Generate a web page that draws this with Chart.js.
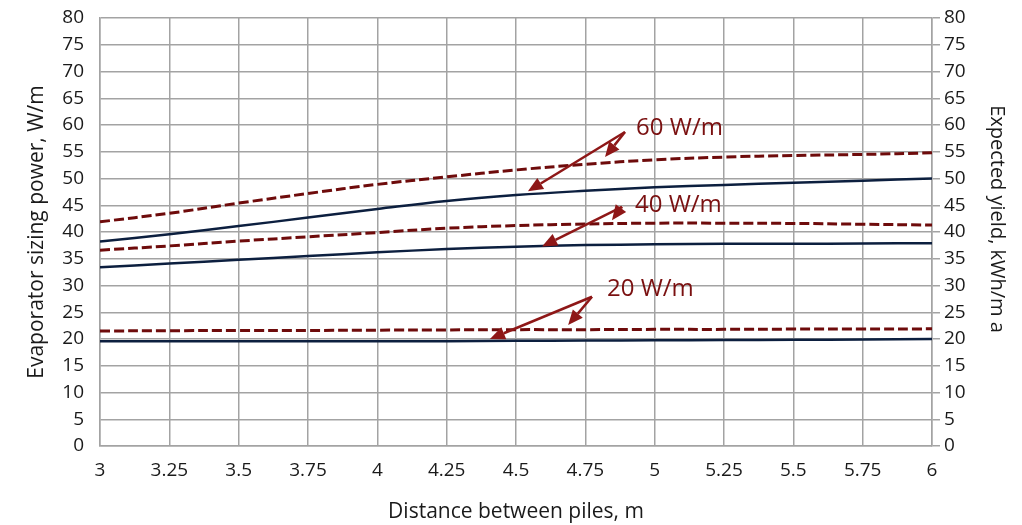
<!DOCTYPE html>
<html><head><meta charset="utf-8">
<script src="https://cdn.jsdelivr.net/npm/chart.js@4"></script>
<style>html,body{margin:0;padding:0;background:#fff}#wrap{width:1022px;height:525px;position:relative}</style>
</head><body><div id="wrap"><canvas id="c"></canvas></div>
<script>
const distances = [3, 3.25, 3.5, 3.75, 4, 4.25, 4.5, 4.75, 5, 5.25, 5.5, 5.75, 6];
const xTickLabels = ['3','3.25','3.5','3.75','4','4.25','4.5','4.75','5','5.25','5.5','5.75','6'];
// Expected yield, kWh/m a (dashed, right axis)
const yield60 = [41.9, 43.5, 45.4, 47.2, 48.9, 50.3, 51.6, 52.65, 53.5, 54.0, 54.3, 54.5, 54.8];
const yield40 = [36.6, 37.4, 38.3, 39.1, 39.9, 40.7, 41.2, 41.5, 41.65, 41.65, 41.6, 41.45, 41.3];
const yield20 = [21.5, 21.55, 21.6, 21.6, 21.65, 21.7, 21.75, 21.75, 21.8, 21.8, 21.85, 21.85, 21.9];
// Evaporator sizing power, W/m (solid, left axis)
const power60 = [38.2, 39.6, 41.1, 42.7, 44.3, 45.8, 46.9, 47.7, 48.35, 48.8, 49.2, 49.6, 50.0];
const power40 = [33.4, 34.1, 34.8, 35.5, 36.2, 36.8, 37.25, 37.55, 37.7, 37.8, 37.8, 37.85, 37.9];
const power20 = [19.6, 19.6, 19.6, 19.6, 19.6, 19.6, 19.65, 19.7, 19.75, 19.8, 19.85, 19.9, 20.0];
const labelTexts = ['60 W/m', '40 W/m', '20 W/m'];

const FONT = "'Open Sans', sans-serif";
const RED = '#6e0b0b';
const NAVY = '#0c1f3f';
const TXT = '#1a1a1a';
const GRID = '#a3a3a3';

function pts(ys){ return distances.map((x,i)=>({x, y: ys[i]})); }
function dashed(ys){ return {data: pts(ys), yAxisID:'y2', borderColor: RED, borderWidth: 3, borderDash:[10,4], pointRadius:0, tension:0.4, fill:false}; }
function solid(ys){ return {data: pts(ys), yAxisID:'y', borderColor: NAVY, borderWidth: 2.5, pointRadius:0, tension:0.4, fill:false}; }
function noPad(s){ s.paddingTop = 0; s.paddingBottom = 0; s.paddingLeft = 0; s.paddingRight = 0; }

const arrowPlugin = {
  id: 'arrows',
  afterDatasetsDraw(chart, args, opts) {
    const {ctx, scales:{x, y}} = chart;
    ctx.save();
    opts.items.forEach((it, k) => {
      const sx = x.getPixelForValue(it.from[0]), sy = y.getPixelForValue(it.from[1]);
      it.tips.forEach(t => {
        const tx = x.getPixelForValue(t[0]), ty = y.getPixelForValue(t[1]);
        const ang = Math.atan2(ty - sy, tx - sx);
        const L = 15, W = 6.5;
        const bx = tx - L*Math.cos(ang), by = ty - L*Math.sin(ang);
        ctx.strokeStyle = '#8e1717'; ctx.fillStyle = '#8e1717'; ctx.lineWidth = 2.5;
        ctx.beginPath(); ctx.moveTo(sx, sy); ctx.lineTo(bx, by); ctx.stroke();
        ctx.beginPath();
        ctx.moveTo(tx, ty);
        ctx.lineTo(bx + W*Math.sin(ang), by - W*Math.cos(ang));
        ctx.lineTo(bx - W*Math.sin(ang), by + W*Math.cos(ang));
        ctx.closePath(); ctx.fill();
      });
      ctx.fillStyle = '#7a1010';
      ctx.font = "24px " + FONT;
      ctx.textAlign = 'left'; ctx.textBaseline = 'middle';
      ctx.fillText(labelTexts[k], x.getPixelForValue(it.label[0]), y.getPixelForValue(it.label[1]));
    });
    ctx.restore();
  }
};

new Chart(document.getElementById('c'), {
  type: 'line',
  data: { datasets: [dashed(yield60), solid(power60), dashed(yield40), solid(power40), dashed(yield20), solid(power20)] },
  options: {
    responsive: true, maintainAspectRatio: false, animation: false,
    layout: { padding: { top: 18, left: 0, right: 0, bottom: 0 } },
    plugins: {
      legend: { display: false }, tooltip: { enabled: false },
      arrows: { items: [
        { label: [4.933, 59.4], from: [4.893, 58.7], tips: [[4.543, 47.6], [4.821, 54.0]] },
        { label: [4.929, 45.0], from: [4.882, 44.7], tips: [[4.594, 37.3], [4.846, 42.2]] },
        { label: [4.828, 29.3], from: [4.774, 27.9], tips: [[4.406, 20.0], [4.688, 22.6]] }
      ] }
    },
    scales: {
      x: {
        type: 'linear', min: 3, max: 6,
        afterFit: s => { s.height = 79; noPad(s); },
        ticks: { stepSize: 0.25, padding: 13, color: TXT, font: { family: FONT, size: 19 }, maxRotation: 0, autoSkip: false,
          callback: (v, i) => xTickLabels[i] },
        grid: { color: GRID, lineWidth: 1.5, drawTicks: false },
        border: { color: GRID, width: 1.5 },
        title: { display: true, text: 'Distance between piles, m', color: TXT, font: { family: FONT, size: 21 }, padding: { top: 2, bottom: 0 } }
      },
      y: {
        position: 'left', min: 0, max: 80,
        afterFit: s => { s.width = 100; noPad(s); },
        ticks: { stepSize: 5, padding: 16, color: TXT, font: { family: FONT, size: 19 } },
        grid: { color: GRID, lineWidth: 1.5, drawTicks: false },
        border: { color: GRID, width: 1.5 },
        title: { display: true, text: 'Evaporator sizing power, W/m', color: TXT, font: { family: FONT, size: 21 }, padding: { top: 24, bottom: 0 } }
      },
      y2: {
        position: 'right', min: 0, max: 80,
        afterFit: s => { s.width = 90; noPad(s); },
        ticks: { stepSize: 5, padding: 4, color: TXT, font: { family: FONT, size: 19 } },
        grid: { drawOnChartArea: false, color: GRID, lineWidth: 1.5, drawTicks: true, tickLength: 8 },
        border: { color: GRID, width: 1.5 },
        title: { display: true, text: 'Expected yield, kWh/m a\u00A0\u00A0\u00A0\u00A0\u00A0', color: TXT, font: { family: FONT, size: 20 }, padding: { top: 13, bottom: 0 } }
      }
    }
  },
  plugins: [arrowPlugin]
});
</script>
</body></html>
